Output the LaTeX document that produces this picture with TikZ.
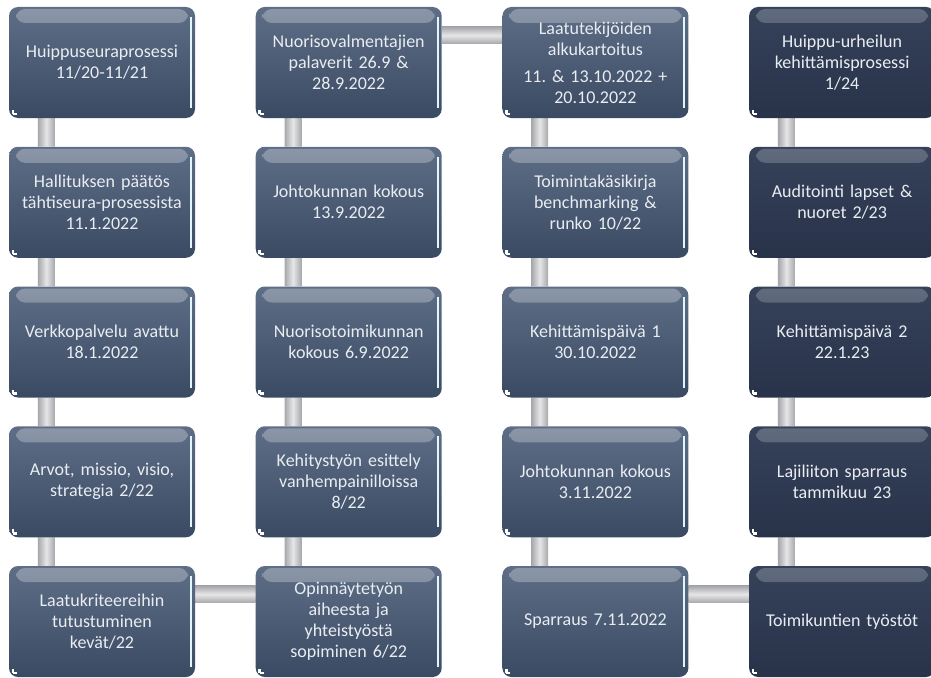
\documentclass[tikz,border=0pt]{standalone}
\usepackage{fontspec}
\setmainfont{Carlito}
\usepackage{tikz}
\usetikzlibrary{positioning}
\pgfdeclarelayer{background}
\pgfsetlayers{background,main}

\definecolor{boxtop}{HTML}{5E6E86}
\definecolor{boxbot}{HTML}{3A4A63}
\definecolor{darktop}{HTML}{36425A}
\definecolor{darkbot}{HTML}{28334A}
\definecolor{bargray}{HTML}{A6A7AB}
\definecolor{barlight}{HTML}{E6E6E8}
\definecolor{boxtext}{HTML}{E9EDF2}

\begin{document}
\begin{tikzpicture}[x=1pt,y=1pt,node distance=139.75pt,
                    font=\fontsize{18}{21}\selectfont]
  \tikzstyle{stage}=[rectangle, rounded corners=9pt, inner sep=0pt,
    minimum width=186pt, minimum height=111pt, text width=182pt, align=center,
    top color=boxtop, bottom color=boxbot, text=boxtext,
    path picture={
      \shade[top color=white!28!boxtop, bottom color=boxtop]
        ([xshift=7pt,yshift=-2pt]path picture bounding box.north west) rectangle
        ([xshift=-7pt,yshift=-16pt]path picture bounding box.north east);
      \draw[line width=2pt, cyan!12!white] ([xshift=-4pt,yshift=-10pt]path picture bounding box.north east)
        -- ([xshift=-4pt,yshift=10pt]path picture bounding box.south east);
      \draw[white, line width=2.5pt] ([xshift=4pt,yshift=4pt]path picture bounding box.south west)
        -- ++(4pt,0);
      \draw[white, line width=2.5pt] ([xshift=4pt,yshift=4pt]path picture bounding box.south west)
        -- ++(0,4pt);}]
  \tikzstyle{late}=[stage, top color=darktop, bottom color=darkbot,
    path picture={
      \shade[top color=white!22!darktop, bottom color=darktop]
        ([xshift=7pt,yshift=-2pt]path picture bounding box.north west) rectangle
        ([xshift=-7pt,yshift=-16pt]path picture bounding box.north east);
      \draw[white, line width=2.5pt] ([xshift=4pt,yshift=4pt]path picture bounding box.south west)
        -- ++(4pt,0);
      \draw[white, line width=2.5pt] ([xshift=4pt,yshift=4pt]path picture bounding box.south west)
        -- ++(0,4pt);}]
  \tikzstyle{vbar}=[left color=bargray, right color=bargray, middle color=barlight, shading angle=90]
  \tikzstyle{hbar}=[top color=bargray, bottom color=bargray, middle color=barlight]

  \useasboundingbox (0,0) rectangle (931,-677);

  % first column, going down
  \node[stage] (a1) at (102,-62.5) {Huippuseuraprosessi\\11/20-11/21};
  \node[stage] (a2) [below of=a1] {Hallituksen päätös\\tähtiseura-prosessista\\11.1.2022};
  \node[stage] (a3) [below of=a2] {Verkkopalvelu avattu\\18.1.2022};
  \node[stage] (a4) [below of=a3] {Arvot, missio, visio,\\strategia 2/22};
  \node[stage] (a5) [below of=a4] {Laatukriteereihin\\tutustuminen\\kevät/22};

  % second column, going up
  \node[stage] (b5) [right of=a5, node distance=246.7pt] {Opinnäytetyön\\aiheesta ja\\yhteistyöstä\\sopiminen 6/22};
  \node[stage] (b4) [above of=b5] {Kehitystyön esittely\\vanhempainilloissa\\8/22};
  \node[stage] (b3) [above of=b4] {Nuorisotoimikunnan\\kokous 6.9.2022};
  \node[stage] (b2) [above of=b3] {Johtokunnan kokous\\13.9.2022};
  \node[stage] (b1) [above of=b2] {Nuorisovalmentajien\\palaverit 26.9 \&\\28.9.2022};

  % third column, going down
  \node[stage] (c1) [right of=b1, node distance=246.7pt] {Laatutekijöiden\\alkukartoitus\\[6pt]11.\ \& 13.10.2022 +\\20.10.2022};
  \node[stage] (c2) [below of=c1] {Toimintakäsikirja\\benchmarking \&\\runko 10/22};
  \node[stage] (c3) [below of=c2] {Kehittämispäivä 1\\30.10.2022};
  \node[stage] (c4) [below of=c3] {Johtokunnan kokous\\3.11.2022};
  \node[stage] (c5) [below of=c4] {Sparraus 7.11.2022};

  % fourth column, going up
  \node[late] (d5) [right of=c5, node distance=246.7pt] {Toimikuntien työstöt};
  \node[late] (d4) [above of=d5] {Lajiliiton sparraus\\tammikuu 23};
  \node[late] (d3) [above of=d4] {Kehittämispäivä 2\\22.1.23};
  \node[late] (d2) [above of=d3] {Auditointi lapset \&\\nuoret 2/23};
  \node[late] (d1) [above of=d2] {Huippu-urheilun\\kehittämisprosessi\\1/24};

  % connecting bars behind the boxes
  \begin{pgfonlayer}{background}
    \shade[vbar] ([xshift=29pt]a1.south west) rectangle ([xshift=46pt]a2.north west)
                 ([xshift=29pt]a2.south west) rectangle ([xshift=46pt]a3.north west)
                 ([xshift=29pt]a3.south west) rectangle ([xshift=46pt]a4.north west)
                 ([xshift=29pt]a4.south west) rectangle ([xshift=46pt]a5.north west);
    \shade[hbar] ([yshift=-20pt]a5.north east) rectangle ([yshift=-37pt]b5.north west);
    \shade[vbar] ([xshift=29pt]b5.north west) rectangle ([xshift=46pt]b4.south west)
                 ([xshift=29pt]b4.north west) rectangle ([xshift=46pt]b3.south west)
                 ([xshift=29pt]b3.north west) rectangle ([xshift=46pt]b2.south west)
                 ([xshift=29pt]b2.north west) rectangle ([xshift=46pt]b1.south west);
    \shade[hbar] ([yshift=-20pt]b1.north east) rectangle ([yshift=-37pt]c1.north west);
    \shade[vbar] ([xshift=29pt]c1.south west) rectangle ([xshift=46pt]c2.north west)
                 ([xshift=29pt]c2.south west) rectangle ([xshift=46pt]c3.north west)
                 ([xshift=29pt]c3.south west) rectangle ([xshift=46pt]c4.north west)
                 ([xshift=29pt]c4.south west) rectangle ([xshift=46pt]c5.north west);
    \shade[hbar] ([yshift=-20pt]c5.north east) rectangle ([yshift=-37pt]d5.north west);
    \shade[vbar] ([xshift=29pt]d5.north west) rectangle ([xshift=46pt]d4.south west)
                 ([xshift=29pt]d4.north west) rectangle ([xshift=46pt]d3.south west)
                 ([xshift=29pt]d3.north west) rectangle ([xshift=46pt]d2.south west)
                 ([xshift=29pt]d2.north west) rectangle ([xshift=46pt]d1.south west);
  \end{pgfonlayer}
\end{tikzpicture}
\end{document}
